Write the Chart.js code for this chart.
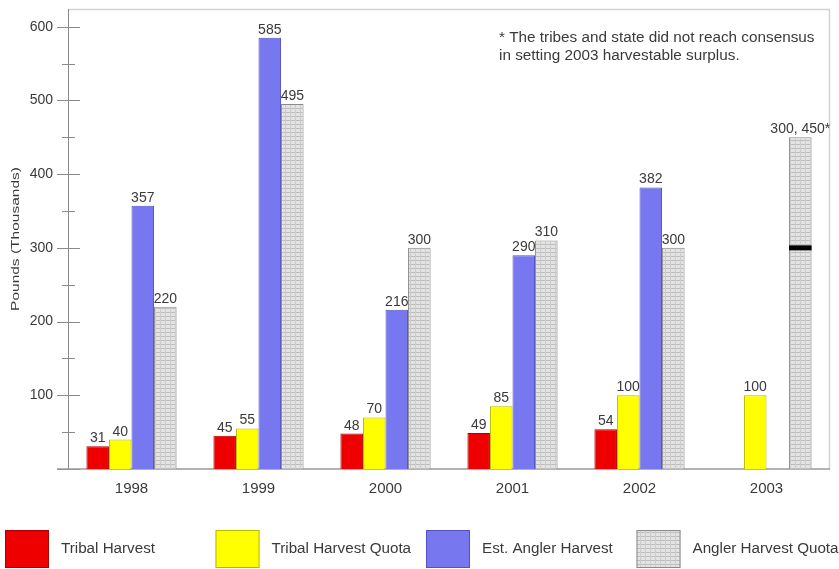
<!DOCTYPE html>
<html>
<head>
<meta charset="utf-8">
<script src="https://cdn.jsdelivr.net/npm/chart.js@4/dist/chart.umd.min.js"></script>
<style>
  html, body { margin: 0; padding: 0; background: #ffffff; }
  #wrap { width: 839px; height: 569px; position: relative; }
</style>
</head>
<body>
<div id="wrap"><canvas id="c"></canvas></div>
<script>
// Harvest figures, pounds (thousands)
const years = ['1998', '1999', '2000', '2001', '2002', '2003'];
const tribalHarvest = [31, 45, 48, 49, 54, null];
const tribalHarvestQuota = [40, 55, 70, 85, 100, 100];
const estAnglerHarvest = [357, 585, 216, 290, 382, null];
const anglerHarvestQuota = [220, 495, 300, 310, 300, 450];
// lower end of the quota range for the year without a consensus figure
const anglerQuotaLow = [null, null, null, null, null, 300];
const yTickValues = [0, 50, 100, 150, 200, 250, 300, 350, 400, 450, 500, 550, 600];
const seriesNames = ['Tribal Harvest', 'Tribal Harvest Quota', 'Est. Angler Harvest', 'Angler Harvest Quota'];
const footnote = ['* The tribes and state did not reach consensus', 'in setting 2003 harvestable surplus.'];
const yTitle = 'Pounds (Thousands)';

const FONT = '"Liberation Sans", Arial, sans-serif';
const TEXT = '#3a3a3a';

// light gray grid-hatched fill for the quota bars
function gridPattern() {
  const t = document.createElement('canvas');
  t.width = 5; t.height = 4;
  const g = t.getContext('2d');
  g.fillStyle = '#e3e3e3';
  g.fillRect(0, 0, 5, 4);
  g.fillStyle = '#bdbdbd';
  g.fillRect(0, 0, 5, 1);
  g.fillStyle = '#cccccc';
  g.fillRect(0, 0, 1, 4);
  return g.createPattern(t, 'repeat');
}
const quotaFill = gridPattern();

function noPadding(scale) {
  scale.paddingTop = 0;
  scale.paddingBottom = 0;
  scale.paddingLeft = 0;
  scale.paddingRight = 0;
}

// frame, axis ticks, footnote, rotated axis title and legend
const decorations = {
  id: 'decorations',
  beforeDatasetsDraw(chart) {
    const { ctx, chartArea: a, scales: { y } } = chart;
    ctx.save();
    ctx.strokeStyle = '#d2d2d2';
    ctx.lineWidth = 1.5;
    ctx.beginPath();
    ctx.moveTo(a.left, a.top + 0.5);
    ctx.lineTo(a.right - 0.5, a.top + 0.5);
    ctx.lineTo(a.right - 0.5, a.bottom);
    ctx.stroke();
    ctx.strokeStyle = '#8a8a8a';
    ctx.lineWidth = 1;
    ctx.beginPath();
    ctx.moveTo(a.left + 0.5, a.top);
    ctx.lineTo(a.left + 0.5, a.bottom);
    ctx.stroke();
    yTickValues.forEach(v => {
      const py = Math.round(y.getPixelForValue(v)) + 0.5;
      const major = v % 100 === 0;
      ctx.beginPath();
      ctx.moveTo(a.left - (major ? 11 : 6), py);
      ctx.lineTo(a.left + (major ? 12 : 7), py);
      ctx.stroke();
    });
    ctx.strokeStyle = '#9a9a9a';
    ctx.lineWidth = 1.5;
    ctx.beginPath();
    ctx.moveTo(a.left - 11, a.bottom);
    ctx.lineTo(a.right, a.bottom);
    ctx.stroke();
    ctx.restore();
  },
  afterDraw(chart) {
    const { ctx, chartArea: a } = chart;
    ctx.save();
    ctx.fillStyle = TEXT;
    ctx.textAlign = 'left';
    ctx.textBaseline = 'middle';
    ctx.font = '15.3px ' + FONT;
    ctx.fillText(footnote[0], 499, 38);
    ctx.fillText(footnote[1], 499, 56);

    ctx.save();
    ctx.translate(16, (a.top + a.bottom) / 2);
    ctx.rotate(-Math.PI / 2);
    ctx.scale(1, 0.7);
    ctx.textAlign = 'center';
    ctx.font = '15.5px ' + FONT;
    ctx.fillText(yTitle, 0, 0);
    ctx.restore();

    chart.data.datasets.forEach((ds, i) => {
      const bx = 5 + i * 210.5;
      ctx.fillStyle = ds.backgroundColor;
      ctx.fillRect(bx, 530, 44, 38);
      ctx.strokeStyle = ds.borderColor;
      ctx.lineWidth = 1;
      ctx.strokeRect(bx + 0.5, 530.5, 43, 37);
      ctx.fillStyle = TEXT;
      ctx.font = '15.2px ' + FONT;
      ctx.fillText(ds.label, bx + 56, 549);
    });
    ctx.restore();
  }
};

// value labels above bars, plus the marker at the low end of a quota range
const valueLabels = {
  id: 'valueLabels',
  afterDatasetsDraw(chart) {
    const { ctx, scales: { y } } = chart;
    ctx.save();
    chart.data.datasets.forEach((ds, di) => {
      const meta = chart.getDatasetMeta(di);
      meta.data.forEach((bar, i) => {
        const v = ds.data[i];
        if (v === null || v === undefined) return;
        let text = String(v);
        if (di === 3 && anglerQuotaLow[i] !== null) {
          text = anglerQuotaLow[i] + ', ' + v + '*';
          const py = y.getPixelForValue(anglerQuotaLow[i]);
          ctx.fillStyle = '#000000';
          ctx.fillRect(bar.x - bar.width / 2, py - 2.5, bar.width, 5);
        }
        ctx.fillStyle = TEXT;
        ctx.font = '14px ' + FONT;
        ctx.textAlign = 'center';
        ctx.textBaseline = 'alphabetic';
        ctx.fillText(text, bar.x, bar.y - 4);
      });
    });
    ctx.restore();
  }
};

new Chart(document.getElementById('c'), {
  type: 'bar',
  data: {
    labels: years,
    datasets: [
      { label: seriesNames[0], data: tribalHarvest, backgroundColor: '#ee0000', borderColor: '#a80000' },
      { label: seriesNames[1], data: tribalHarvestQuota, backgroundColor: '#ffff00', borderColor: '#b8b800' },
      { label: seriesNames[2], data: estAnglerHarvest, backgroundColor: '#7777ef', borderColor: '#5252c0' },
      { label: seriesNames[3], data: anglerHarvestQuota, backgroundColor: quotaFill, borderColor: '#8a8a8a' }
    ]
  },
  options: {
    responsive: true,
    maintainAspectRatio: false,
    animation: false,
    devicePixelRatio: 1,
    layout: { padding: { top: 9, right: 9, left: 0, bottom: 0 } },
    datasets: {
      bar: { categoryPercentage: 0.71, barPercentage: 1.0, borderWidth: 1 }
    },
    plugins: {
      legend: { display: false },
      title: { display: false },
      tooltip: { enabled: false }
    },
    scales: {
      x: {
        grid: { display: false },
        border: { display: false },
        ticks: { color: TEXT, font: { family: FONT, size: 15 }, padding: 3 },
        afterFit(scale) { scale.height = 100; noPadding(scale); }
      },
      y: {
        min: 0,
        max: 624,
        grid: { display: false },
        border: { display: false },
        afterBuildTicks(scale) { scale.ticks = yTickValues.map(v => ({ value: v })); },
        ticks: {
          color: TEXT,
          font: { family: FONT, size: 14 },
          padding: 7,
          callback: v => (v > 0 && v % 100 === 0) ? String(v) : ''
        },
        afterFit(scale) { scale.width = 68; noPadding(scale); }
      }
    }
  },
  plugins: [decorations, valueLabels]
});
</script>
</body>
</html>
